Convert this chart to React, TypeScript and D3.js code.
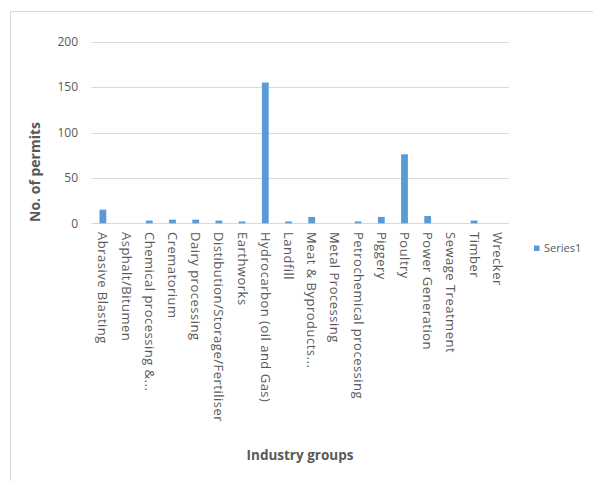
import React from "react";
import * as d3 from "d3";

// Permits issued per industry group
const categories: string[] = [
  "Abrasive Blasting",
  "Asphalt/Bitumen",
  "Chemical processing &...",
  "Crematorium",
  "Dairy processing",
  "Distibution/Storage/Fertiliser",
  "Earthworks",
  "Hydrocarbon (oil and Gas)",
  "Landfill",
  "Meat & Byproducts...",
  "Metal Processing",
  "Petrochemical processing",
  "Piggery",
  "Poultry",
  "Power Generation",
  "Sewage Treatment",
  "Timber",
  "Wrecker",
];

const series1: number[] = [15, 0, 3, 4, 4, 3, 2, 155, 2, 7, 0, 2, 7, 76, 8, 0, 3, 0];

const yTicks: number[] = [0, 50, 100, 150, 200];

const seriesName = "Series1";
const yTitle = "No. of permits";
const xTitle = "Industry groups";

const W = 593;
const H = 481;
const plot = { left: 91.3, right: 508.9, top: 41.7, bottom: 223.3 };
const FONT = "'Open Sans', 'DejaVu Sans', sans-serif";
const TEXT = "#595959";
const GRID = "#d9d9d9";
const BAR = "#5b9bd5";

export default function App() {
  const band = d3.scaleBand<string>().domain(categories).range([plot.left, plot.right]);
  const y = d3.scaleLinear().domain([0, 200]).range([plot.bottom, plot.top]);
  const barW = 6.8;

  return (
    <svg
      width={W}
      height={H}
      style={{ position: "absolute", left: 0, top: 0, background: "#fff" }}
      fontFamily={FONT}
    >
      <rect x={0} y={0} width={W} height={H} fill="#fff" />
      {/* chart frame */}
      <path d={`M10.5,${H + 2}V11.5H${W + 2}`} fill="none" stroke="#d9d9d9" strokeWidth={1} />

      {/* gridlines and y tick labels */}
      {yTicks.map((t) => (
        <g key={t}>
          <line
            x1={plot.left}
            x2={plot.right}
            y1={Math.round(y(t)) + 0.5}
            y2={Math.round(y(t)) + 0.5}
            stroke={GRID}
            strokeWidth={1}
          />
          <text
            x={78}
            y={y(t)}
            dy="0.35em"
            textAnchor="end"
            fontSize={12}
            fill={TEXT}
          >
            {t}
          </text>
        </g>
      ))}

      {/* bars */}
      {categories.map((c, i) => (
        <rect
          key={c}
          x={(band(c) as number) + band.bandwidth() / 2 - barW / 2}
          y={y(series1[i])}
          width={barW}
          height={y(0) - y(series1[i])}
          fill={BAR}
        />
      ))}

      {/* category labels, rotated */}
      {categories.map((c) => {
        const cx = (band(c) as number) + band.bandwidth() / 2;
        return (
          <text
            key={c}
            transform={`translate(${cx},232) rotate(90)`}
            dy="0.35em"
            textAnchor="start"
            fontSize={13}
            letterSpacing={0.5}
            fill={TEXT}
          >
            {c}
          </text>
        );
      })}

      {/* axis titles */}
      <text
        transform={`translate(35,172) rotate(-90)`}
        dy="0.35em"
        textAnchor="middle"
        fontSize={14}
        fontWeight="bold"
        fill={TEXT}
      >
        {yTitle}
      </text>
      <text x={300} y={455} dy="0.35em" textAnchor="middle" fontSize={13.5} fontWeight="bold" fill={TEXT}>
        {xTitle}
      </text>

      {/* legend */}
      <rect x={534} y={245.5} width={5.5} height={5.5} fill={BAR} />
      <text x={544} y={248} dy="0.35em" fontSize={11} fill={TEXT}>
        {seriesName}
      </text>
    </svg>
  );
}
